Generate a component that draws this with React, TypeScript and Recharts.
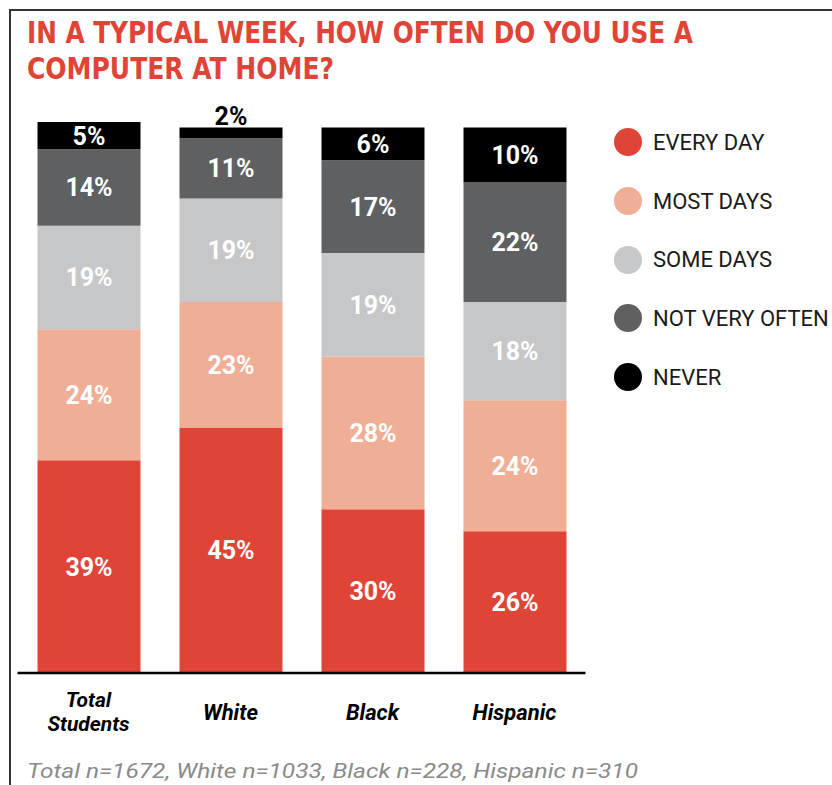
import { Bar, BarChart, LabelList, Legend, XAxis, YAxis } from "recharts";

const categories = ["Total Students", "White", "Black", "Hispanic"];
const everyDay = [39, 45, 30, 26];
const mostDays = [24, 23, 28, 24];
const someDays = [19, 19, 19, 18];
const notVeryOften = [14, 11, 17, 22];
const never = [5, 2, 6, 10];

const seriesNames = ["EVERY DAY", "MOST DAYS", "SOME DAYS", "NOT VERY OFTEN", "NEVER"];
const seriesKeys = ["everyDay", "mostDays", "someDays", "notVeryOften", "never"];
const seriesValues = [everyDay, mostDays, someDays, notVeryOften, never];
const seriesColors = ["#e04437", "#f0ae96", "#c6c7c9", "#5f6062", "#000000"];

const data = categories.map((name, i) => {
  const row: Record<string, string | number> = { name };
  seriesKeys.forEach((k, s) => {
    row[k] = seriesValues[s][i];
  });
  return row;
});

const labelFont = "Roboto, 'Noto Sans', sans-serif";

function SegmentLabel(props: any) {
  const { x, y, width, height, value } = props;
  const cx = x + width / 2;
  if (height < 16) {
    return (
      <text x={cx} y={y - 2} textAnchor="middle" fill="#000" fontFamily={labelFont} fontWeight={700} fontSize={25}>
        {value}%
      </text>
    );
  }
  return (
    <text
      x={cx}
      y={y + height / 2}
      dy={9}
      textAnchor="middle"
      fill="#fff"
      fontFamily={labelFont}
      fontWeight={700}
      fontSize={25}
    >
      {value}%
    </text>
  );
}

function CategoryTick(props: any) {
  const { x, y, payload } = props;
  const words = String(payload.value).split(" ");
  const style = { fontFamily: labelFont, fontWeight: 700, fontStyle: "italic" as const, fontSize: 21 };
  if (words.length > 1) {
    return (
      <g>
        <text x={x} y={y + 26} textAnchor="middle" fill="#000" style={style}>
          {words[0]}
        </text>
        <text x={x} y={y + 50} textAnchor="middle" fill="#000" style={style}>
          {words.slice(1).join(" ")}
        </text>
      </g>
    );
  }
  return (
    <text x={x} y={y + 39} textAnchor="middle" fill="#000" style={{ ...style, fontSize: 22 }}>
      {payload.value}
    </text>
  );
}

function LegendContent() {
  return (
    <div>
      {seriesNames.map((n, i) => (
        <div key={n} style={{ display: "flex", alignItems: "center", height: 58.7 }}>
          <span
            style={{
              display: "inline-block",
              width: 28,
              height: 28,
              borderRadius: 14,
              background: seriesColors[i],
              marginRight: 11,
              flexShrink: 0,
            }}
          />
          <span style={{ fontFamily: labelFont, fontSize: 22, color: "#1a1a1a", whiteSpace: "nowrap" }}>{n}</span>
        </div>
      ))}
    </div>
  );
}

export default function App() {
  return (
    <div style={{ position: "absolute", left: 0, top: 0, width: 832, height: 785, background: "#fff", overflow: "hidden" }}>
      <div
        style={{
          position: "absolute",
          left: 9,
          top: 9,
          width: 840,
          height: 800,
          borderTop: "2px solid #333",
          borderLeft: "2px solid #333",
        }}
      />
      <svg style={{ position: "absolute", left: 0, top: 0 }} width={832} height={100}>
        <text
          x={27}
          y={43}
          fill="#e04437"
          fontFamily="'Liberation Sans Narrow', 'DejaVu Sans Condensed', Roboto, sans-serif"
          fontWeight={700}
          fontSize={31}
          textLength={666}
          lengthAdjust="spacingAndGlyphs"
        >
          IN A TYPICAL WEEK, HOW OFTEN DO YOU USE A
        </text>
        <text
          x={27}
          y={79}
          fill="#e04437"
          fontFamily="'Liberation Sans Narrow', 'DejaVu Sans Condensed', Roboto, sans-serif"
          fontWeight={700}
          fontSize={31}
          textLength={307}
          lengthAdjust="spacingAndGlyphs"
        >
          COMPUTER AT HOME?
        </text>
      </svg>
      <div style={{ position: "absolute", left: 0, top: 0 }}>
        <BarChart
          width={832}
          height={785}
          data={data}
          margin={{ top: 122, right: 246.5, bottom: 52, left: 17.5 }}
          barCategoryGap={0}
        >
          <XAxis
            dataKey="name"
            axisLine={{ stroke: "#000", strokeWidth: 2.5 }}
            tickLine={false}
            height={60}
            interval={0}
            tick={<CategoryTick />}
          />
          <YAxis hide domain={[0, 101]} />
          <Legend
            layout="vertical"
            align="center"
            verticalAlign="middle"
            content={<LegendContent />}
            wrapperStyle={{ position: "absolute", left: 614, top: 113, width: 230 }}
          />
          {seriesKeys.map((k, i) => (
            <Bar key={k} dataKey={k} name={seriesNames[i]} stackId="a" fill={seriesColors[i]} barSize={103} isAnimationActive={false}>
              <LabelList dataKey={k} content={<SegmentLabel />} />
            </Bar>
          ))}
        </BarChart>
      </div>
      <svg style={{ position: "absolute", left: 0, top: 740 }} width={832} height={45}>
        <text
          x={27}
          y={38}
          fill="#8a8a8a"
          fontFamily={labelFont}
          fontStyle="italic"
          fontSize={21}
          textLength={611}
          lengthAdjust="spacingAndGlyphs"
        >
          Total n=1672, White n=1033, Black n=228, Hispanic n=310
        </text>
      </svg>
    </div>
  );
}
